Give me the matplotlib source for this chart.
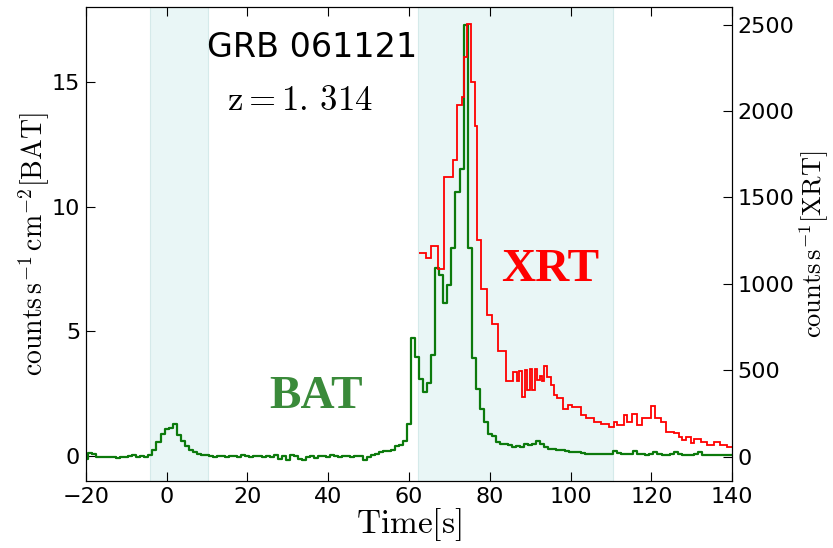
import numpy as np
import matplotlib
matplotlib.use("Agg")
import matplotlib.pyplot as plt

plt.rcParams['mathtext.fontset'] = 'cm'
plt.rcParams['font.family'] = 'DejaVu Sans'

# BAT light curve, 1 s bins, bin centres from -20 s to 140 s
bat_t = np.arange(-20, 141)
bat_rate = [
    -0.1, 0.12, 0.1, -0.03, -0.05, -0.05, -0.02, -0.03, -0.08, -0.05,
    -0.05, 0.0, 0.03, -0.02, 0.0, -0.03, 0.05, 0.23, 0.56, 0.9,
    1.1, 1.12, 1.28, 0.85, 0.6, 0.42, 0.25, 0.15, 0.1, 0.05,
    0.03, 0.0, -0.02, 0.02, 0.0, -0.05, 0.02, 0.0, -0.03, 0.03,
    0.0, -0.05, 0.0, 0.02, -0.02, 0.0, -0.05, 0.03, -0.1, 0.0,
    -0.15, 0.05, 0.0, -0.1, -0.15, -0.05, 0.0, -0.08, 0.02, 0.0,
    -0.05, 0.03, 0.0, -0.02, 0.02, 0.0, -0.03, 0.02, 0.0, -0.15,
    -0.05, 0.05, 0.1, 0.15, 0.2, 0.2, 0.25, 0.4, 0.45, 0.6,
    1.3, 4.74, 3.98, 3.1, 2.57, 2.93, 4.07, 7.53, 7.26, 6.12,
    6.86, 8.33, 10.6, 11.5, 17.3, 8.35, 3.94, 2.67, 1.9, 1.37,
    0.9, 0.82, 0.56, 0.5, 0.5, 0.45, 0.38, 0.4, 0.38, 0.47,
    0.45, 0.47, 0.6, 0.47, 0.36, 0.3, 0.3, 0.23, 0.23, 0.22,
    0.16, 0.16, 0.15, 0.12, 0.1, 0.1, 0.08, 0.1, 0.08, 0.1,
    0.08, 0.2, 0.12, 0.1, 0.08, 0.1, 0.2, 0.1, 0.08, 0.06,
    0.1, 0.18, 0.1, 0.05, 0.06, 0.08, 0.18, 0.08, 0.05, 0.06,
    0.05, 0.08, 0.15, 0.06, 0.05, 0.04, 0.05, 0.04, 0.05, 0.03,
    0.03,
]

# XRT light curve, irregular bin edges
xrt_edges = [
    62.5, 64.1, 65.5, 67.2, 68.6, 71.0, 72.0, 73.0, 73.6, 74.4,
    75.4, 76.3, 76.9, 77.9, 79.4, 80.6, 82.0, 83.9, 85.7, 86.8,
    87.3, 88.0, 88.6, 89.3, 89.9, 90.5, 91.1, 91.7, 92.4, 93.0,
    93.4, 94.2, 95.1, 95.9, 96.7, 98.0, 99.3, 100.4, 102.5, 103.7,
    105.8, 107.4, 109.5, 110.7, 111.5, 113.2, 114.0, 115.3, 116.5, 117.7,
    119.8, 121.0, 122.3, 123.5, 125.6, 126.8, 127.6, 128.5, 129.7, 130.5,
    132.2, 133.8, 135.5, 137.1, 138.8, 140.0,
]
xrt_rate = [
    1181, 1152, 1217, 1088, 1618, 1718, 2036, 2080, 2311, 2504,
    2166, 1916, 1252, 973, 819, 770, 611, 437, 491, 437,
    495, 347, 501, 385, 505, 385, 505, 443, 466, 440,
    525, 459, 414, 356, 340, 279, 300, 289, 241, 222,
    202, 189, 173, 202, 183, 241, 202, 250, 183, 222,
    293, 222, 202, 144, 135, 112, 96, 112, 77, 104,
    85, 67, 85, 71, 58,
]

# shaded intervals (s)
spans = [(-4, 10.3), (62.2, 110.5)]

fig = plt.figure(figsize=(8.33, 5.48), dpi=100)
ax = fig.add_axes([0.103, 0.1223, 0.776, 0.8644])

for a, b in spans:
    ax.axvspan(a, b, facecolor='#e9f6f6', edgecolor='#d5eaea', lw=0.8, zorder=0)

ax.step(bat_t, bat_rate, where='mid', color='#0c7a0c', lw=1.6, zorder=3)
ax.set_xlim(-20, 140)
ax.set_ylim(-1, 18)
ax.set_xticks(np.arange(-20, 141, 20))
ax.set_yticks([0, 5, 10, 15])
ax.tick_params(direction='in', length=6.5, width=0.8, labelsize=16, top=True, pad=4)
ax.set_xlabel(r'$\mathrm{Time[s]}$', fontsize=24, labelpad=0)
ax.set_ylabel(r'$\mathrm{counts\,s^{-1}\,cm^{-2}[BAT]}$', fontsize=20, labelpad=0)

ax2 = ax.twinx()
ax2.stairs(xrt_rate, xrt_edges, baseline=None, color='red', lw=1.3, zorder=2)
ax2.set_ylim(-140, 2600)
ax2.set_yticks([0, 500, 1000, 1500, 2000, 2500])
ax2.tick_params(direction='in', length=6.5, width=0.8, labelsize=16, pad=4)
ax2.set_ylabel(r'$\mathrm{counts\,s^{-1}[XRT]}$', fontsize=19, labelpad=2)

ax.text(10.1, 16.4, 'GRB 061121', fontsize=24, va='center', ha='left')
ax.text(15, 14.3, r'$\mathrm{z=1.\,314}$', fontsize=25, va='center', ha='left')
ax.text(37.1, 2.36, 'BAT', fontsize=34, fontweight='bold', family='Liberation Serif',
        color='#3a8a3a', ha='center', va='center')
ax.text(95.0, 7.46, 'XRT', fontsize=34, fontweight='bold', family='Liberation Serif',
        color='red', ha='center', va='center')

fig.savefig('out.png', dpi=100)
